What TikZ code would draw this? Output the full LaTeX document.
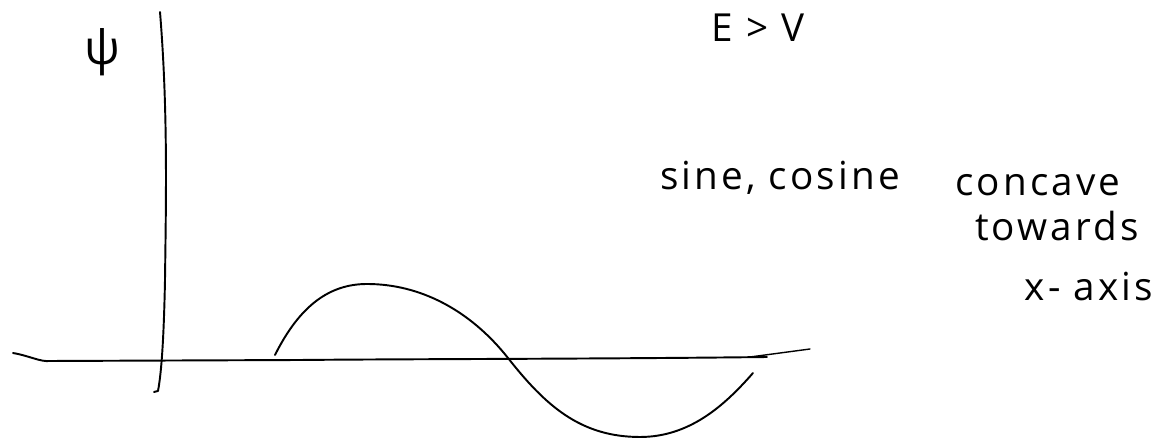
\documentclass[tikz,border=0pt]{standalone}
\usepackage{fontspec}
\setmainfont{Open Sans}
\begin{document}
\begin{tikzpicture}[x=0.02cm,y=-0.02cm,
  pen/.style={line width=1.1pt,line cap=round,line join=round},
  hand/.style={inner sep=0pt,font=\fontsize{22}{24}\selectfont\addfontfeature{LetterSpace=8}}]
\useasboundingbox (0,0) rectangle (1171,445);
% vertical axis
\draw[pen] (160,12) .. controls (168,110) and (166,200) .. (165,280)
  .. controls (164,330) and (162,370) .. (158,391) -- (154,392);
% horizontal axis
\draw[pen] (13,353) .. controls (30,356) and (40,362) .. (50,361)
  -- (300,360) .. controls (400,359) and (600,359) .. (767,357);
\draw[pen,line width=0.8pt] (750,357) -- (810,349);
% wave
\draw[pen] (275,355) .. controls (300,305) and (330,284) .. (367,284)
  .. controls (420,284) and (470,310) .. (508,358)
  .. controls (545,405) and (580,437) .. (640,437)
  .. controls (690,437) and (725,405) .. (753,373);
% labels
\node[inner sep=0pt,font=\fontsize{27}{29}\selectfont] (psi) at (102,52) {ψ};
\node[hand] (ev) at (758,28) {E > V};
\node[hand] (sc) at (780,178) {sine, cosine};
\node[hand] (cc) at (1038,185) {concave};
\node[hand] (tw) at (1057,226) {towards};
\node[hand] (xa) at (1089,287) {x- axis};
\end{tikzpicture}
\end{document}
